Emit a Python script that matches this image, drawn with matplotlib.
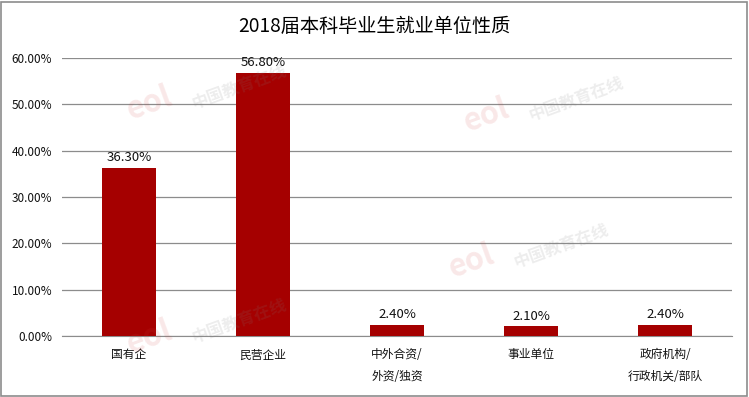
import matplotlib
matplotlib.use("Agg")
import matplotlib.pyplot as plt
from matplotlib.patches import Rectangle
from matplotlib.ticker import FuncFormatter, MultipleLocator

plt.rcParams['font.family'] = ['Noto Sans CJK SC', 'DejaVu Sans']

title = "2018届本科毕业生就业单位性质"
categories = ["国有企", "民营企业", "中外合资/\n外资/独资", "事业单位", "政府机构/\n行政机关/部队"]
values = [36.30, 56.80, 2.40, 2.10, 2.40]

fig = plt.figure(figsize=(7.49, 3.97), dpi=100)
ax = fig.add_axes([0.0828, 0.1537, 0.8945, 0.7003])

x = range(len(categories))
ax.bar(x, values, width=0.4, color="#A50000", zorder=3)
for xi, v in zip(x, values):
    ax.text(xi, v + 0.8, f"{v:.2f}%", ha="center", va="bottom", fontsize=9.5, color="#111111", zorder=4)

ax.set_xlim(-0.5, len(categories) - 0.5)
ax.set_ylim(0, 60)
ax.yaxis.set_major_locator(MultipleLocator(10))
ax.yaxis.set_major_formatter(FuncFormatter(lambda v, p: f"{v:.2f}%"))
ax.grid(axis="y", color="#8c8c8c", linewidth=0.9, zorder=0)
ax.set_xticks(list(x))
ax.set_xticklabels(categories, fontsize=8.5, linespacing=1.9, va="top")
for s in ["left", "right", "top"]:
    ax.spines[s].set_visible(False)
ax.spines["bottom"].set_color("#8c8c8c")
ax.tick_params(axis="both", length=0, labelsize=8.5, colors="#111111")
ax.tick_params(axis="x", pad=9)
ax.tick_params(axis="y", pad=7)

# faint watermarks
for (wx, wy) in [(0.27, 0.77), (0.72, 0.74), (0.7, 0.37), (0.27, 0.18)]:
    fig.text(wx - 0.07, wy - 0.03, "eol", fontsize=22, color="#d04040", alpha=0.12, rotation=20,
             fontweight="bold", ha="center", va="center", zorder=1)
    fig.text(wx + 0.05, wy + 0.01, "中国教育在线", fontsize=12, color="#808080", alpha=0.14, rotation=20,
             fontweight="bold", ha="center", va="center", zorder=1)

fig.text(0.5, 0.932, title, ha="center", va="center", fontsize=13.8, color="#000000")
fig.patches.append(Rectangle((0.002, 0.003), 0.995, 0.993, transform=fig.transFigure,
                             fill=False, edgecolor="#8c8c8c", linewidth=1.2))
fig.savefig("out.png", dpi=100)
